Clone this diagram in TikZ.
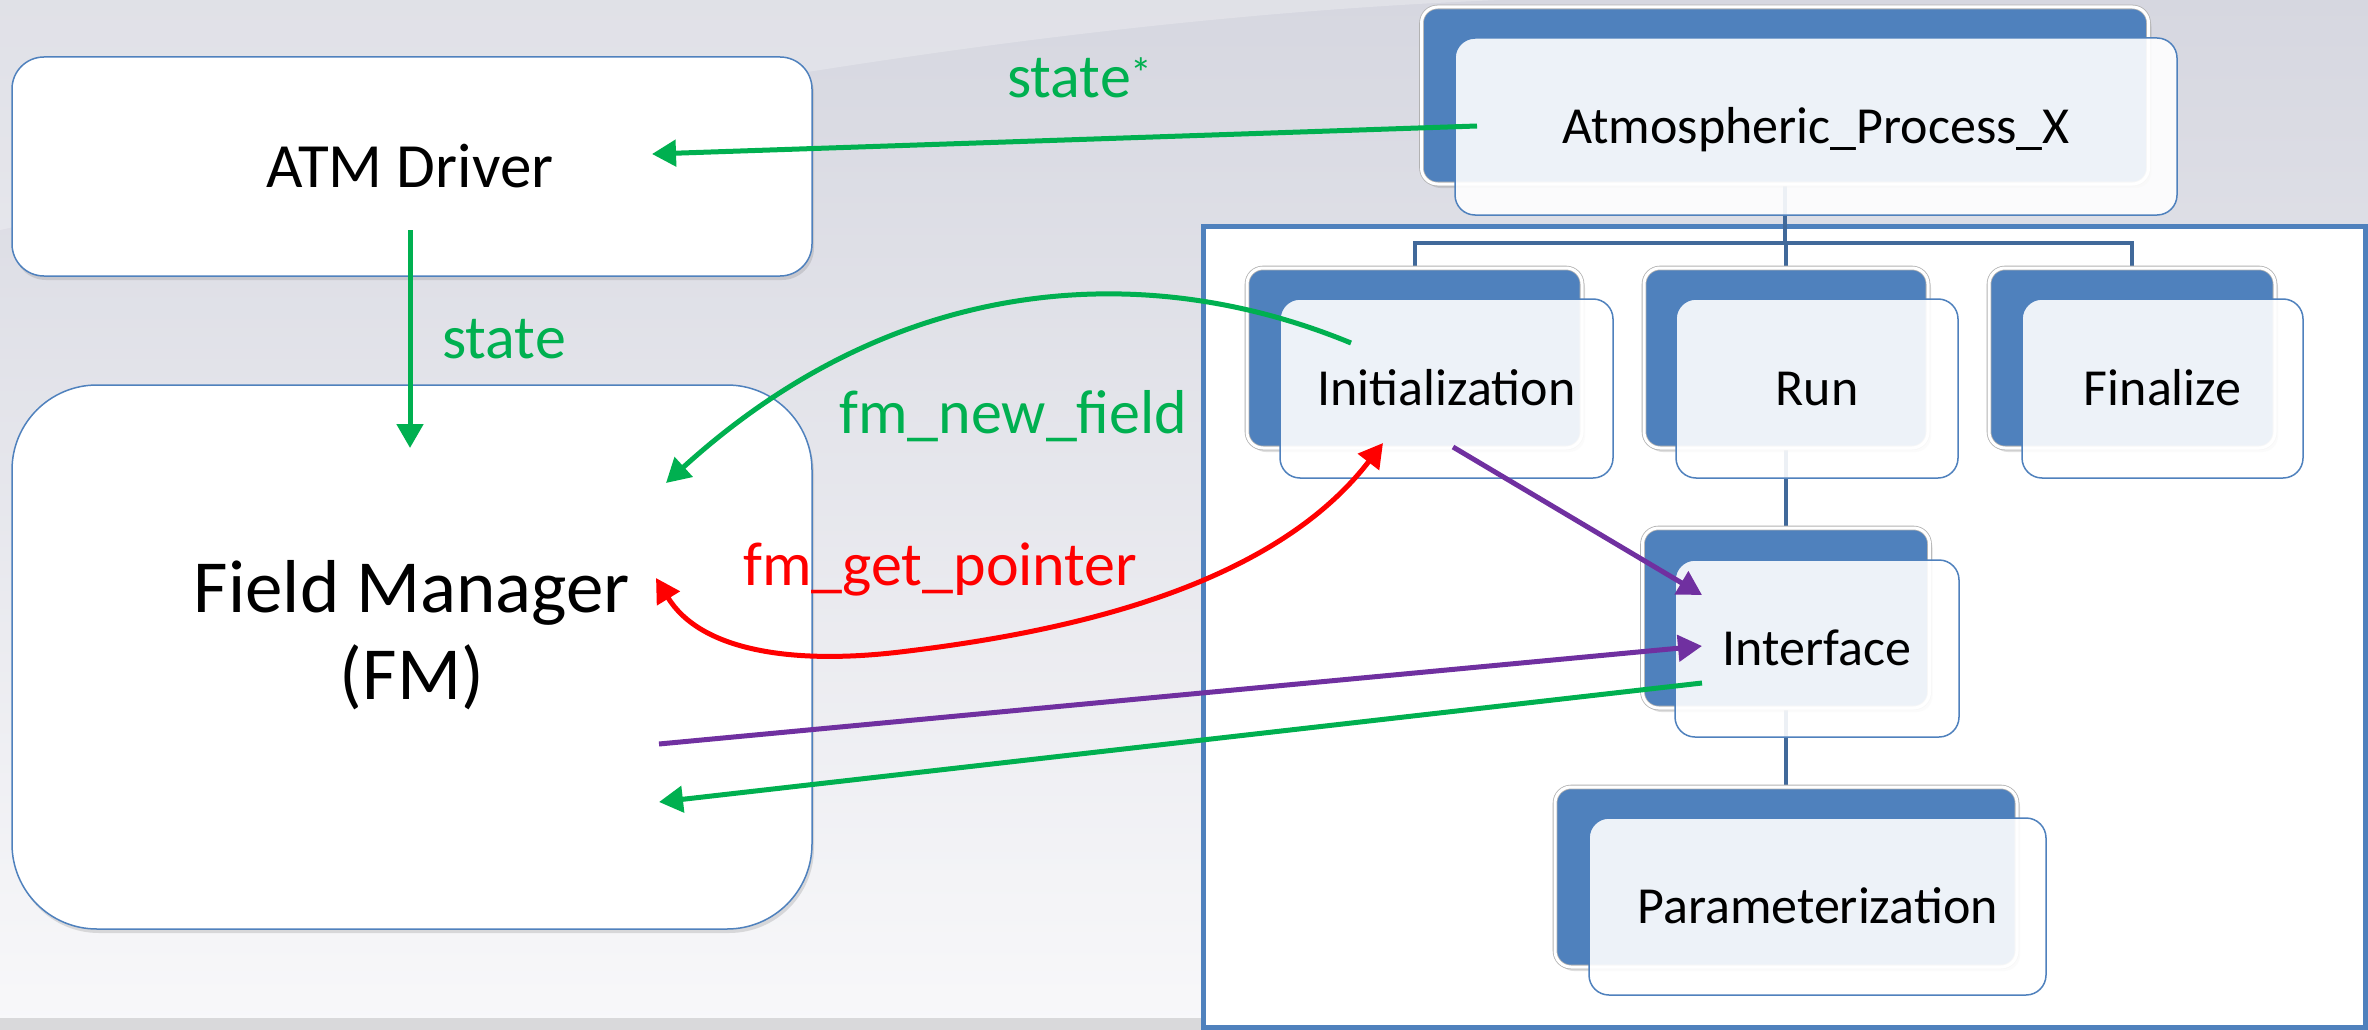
\documentclass[tikz,border=0pt]{standalone}
\usepackage{fontspec}
\setmainfont{Carlito}
\usetikzlibrary{arrows.meta,calc,shadows}
\definecolor{accblue}{HTML}{4F81BD}
\definecolor{treeblue}{HTML}{41699A}
\definecolor{grn}{HTML}{00B050}
\definecolor{prp}{HTML}{7030A0}
\definecolor{bgtop}{HTML}{D6D7E0}
\definecolor{bgbot}{HTML}{F8F8FA}
\definecolor{strip}{HTML}{D9D9DB}
\begin{document}
\begin{tikzpicture}[x=1pt,y=-1pt,
  plainbox/.style={draw=accblue, line width=1.5pt, fill=white, inner sep=0pt,
    drop shadow={shadow xshift=2pt, shadow yshift=-4pt, opacity=0.25}},
  procback/.style={draw=gray!60, double=white, double distance=3pt, line width=0.8pt,
    fill=accblue, rounded corners=16pt, inner sep=0pt,
    drop shadow={shadow xshift=3pt, shadow yshift=-4pt, opacity=0.25}},
  procfront/.style={draw=accblue, line width=1.5pt, fill=white, fill opacity=0.9,
    text opacity=1, rounded corners=20pt, inner sep=0pt,
    font=\fontsize{52}{60}\selectfont, text height=33pt, text depth=0pt},
  tree/.style={draw=treeblue, line width=4pt},
  lbl/.style={inner sep=0pt, font=\fontsize{62}{70}\selectfont},
  arr/.style={line width=5pt, -{Triangle[length=24pt,width=26pt]}},
  darr/.style={line width=5pt, {Triangle[length=24pt,width=26pt]}-{Triangle[length=24pt,width=26pt]}}
]
\useasboundingbox (0,0) rectangle (2368,1030);
% background
\shade[top color=bgtop, bottom color=bgbot] (0,0) rectangle (2368,1030);
\fill[white, opacity=0.25] (0,230) .. controls (500,120) and (1000,20) .. (1500,0) -- (0,0) -- cycle;
\fill[strip] (0,1018) rectangle (1203,1030);

% left boxes
\node[plainbox, rounded corners=32pt, minimum width=800pt, minimum height=219pt] (atm) at (412,166.5) {};
\node[inner sep=0pt, anchor=base, font=\fontsize{63}{70}\selectfont] (atmtext) at (410,187) {ATM Driver};
\node[plainbox, rounded corners=85pt, minimum width=800pt, minimum height=544pt] (fm) at (412,657) {};
\node[inner sep=0pt, anchor=base, font=\fontsize{75}{87}\selectfont] (fmtextA) at (412,612) {Field Manager};
\node[inner sep=0pt, anchor=base, font=\fontsize{75}{87}\selectfont] (fmtextB) at (412,699) {(FM)};

% right panel
\node[draw=accblue, line width=5pt, fill=white, minimum width=1162pt, minimum height=801pt, inner sep=0pt] (panel) at (1784,626.5) {};

\coordinate (bar) at (1786,243);
% tree lines (drawn behind boxes)
\draw[tree] (1785,95) -- (1785,243);
\draw[tree] (1414.5,358) |- (bar) -| (2132,358);
\draw[tree] (bar) -- (1786,358);
\draw[tree] (1786,358) -- (1786,877);

\node[procback, minimum width=727pt, minimum height=177pt] (atmB) at (1785,95.5) {};
\node[procback, minimum width=335pt, minimum height=180pt] (initB) at (1414.5,358) {};
\node[procback, minimum width=284pt, minimum height=180pt] (runB) at (1786,358) {};
\node[procback, minimum width=286pt, minimum height=180pt] (finB) at (2132,358) {};
\node[procback, minimum width=287pt, minimum height=180pt] (intfB) at (1786,618) {};
\node[procback, minimum width=462pt, minimum height=180pt] (parB) at (1786,877) {};

\node[procfront, minimum width=722pt, minimum height=177pt] (atmF) at (1816,126.5) {Atmospheric\_Process\_X};
\node[procfront, minimum width=333pt, minimum height=179pt] (initF) at (1446.5,388.5) {Initialization};
\node[procfront, minimum width=282pt, minimum height=179pt] (runF) at (1817,388.5) {Run};
\node[procfront, minimum width=281pt, minimum height=179pt] (finF) at (2162.5,388.5) {Finalize};
\node[procfront, minimum width=284pt, minimum height=177pt] (intfF) at (1817,648.5) {Interface};
\node[procfront, minimum width=457pt, minimum height=177pt] (parF) at (1817.5,906.5) {Parameterization};

% connector end points
\coordinate (sA) at (1477,126);
\coordinate (sB) at (652,154);
\coordinate (dA) at (410,230);
\coordinate (dB) at (410,448);
\coordinate (nA) at (1351,343);
\coordinate (nB) at (666,483);
\coordinate (gA) at (656,578);
\coordinate (gM) at (900,652);
\coordinate (gB) at (1383,443);
\coordinate (pA) at (1453,447);
\coordinate (pB) at (1702,595);
\coordinate (qA) at (659,744);
\coordinate (qB) at (1702,646);
\coordinate (rA) at (1702,683);
\coordinate (rB) at (659,802);

\draw[arr, grn] (sA) -- (sB);
\draw[arr, grn] (dA) -- (dB);
\draw[arr, grn] (nA) .. controls (1150,260) and (900,270) .. (nB);
\draw[darr, red] (gA) .. controls (700,650) and (790,665) .. (gM) .. controls (1060,633) and (1270,590) .. (gB);
\draw[arr, prp] (pA) -- (pB);
\draw[arr, prp] (qA) -- (qB);
\draw[arr, grn] (rA) -- (rB);

% labels
\node[lbl, text=grn, anchor=base west] (lstar) at (1007,98) {state\textsuperscript{*}};
\node[lbl, text=grn, anchor=base west] (lstate) at (442,358) {state};
\node[lbl, text=grn, anchor=base west] (lnew) at (839,433) {fm\_new\_field};
\node[lbl, text=red, anchor=base west] (lget) at (743,585) {fm\_get\_pointer};
\end{tikzpicture}
\end{document}
